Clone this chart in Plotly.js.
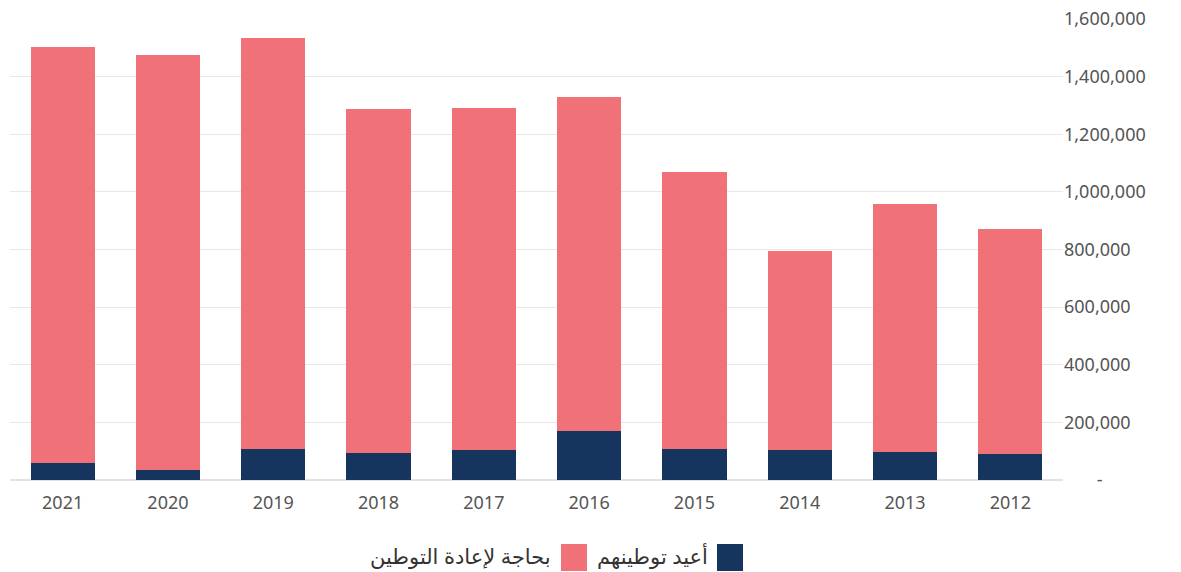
<!DOCTYPE html>
<html><head><meta charset="utf-8">
<script src="https://cdn.plot.ly/plotly-3.0.1.min.js"></script>
<style>html,body{margin:0;padding:0;background:#fff}#chart{width:1181px;height:572px}</style>
</head><body><div id="chart"></div>
<script>
const years = ['2021','2020','2019','2018','2017','2016','2015','2014','2013','2012'];
const resettled = [57500, 34400, 107800, 92400, 102800, 170000, 107100, 105200, 98400, 88600];
const inNeed = [1445000, 1440000, 1428000, 1195000, 1190000, 1160000, 962000, 691000, 859000, 781000];
const nameResettled = 'أعيد توطينهم';
const nameNeed = 'بحاجة لإعادة التوطين';
const tickVals = [0, 200000, 400000, 600000, 800000, 1000000, 1200000, 1400000, 1600000];
const tickText = ['\u00a0\u00a0\u00a0\u00a0\u00a0\u00a0\u00a0-', '200,000', '400,000', '600,000', '800,000', '1,000,000', '1,200,000', '1,400,000', '1,600,000'];

const navy = '#16355e', pink = '#f07178';
const L = 10, R = 1063, T = 19, B = 480;
const px = x => (x - L) / (R - L);
const py = y => (B - y) / (B - T);

const traces = [
  {type:'bar', x: years, y: resettled, name: nameResettled, marker:{color: navy}, hoverinfo:'x+y'},
  {type:'bar', x: years, y: inNeed, name: nameNeed, marker:{color: pink}, hoverinfo:'x+y'}
];
const font = {family:'Noto Sans, DejaVu Sans, sans-serif', color:'#555', size:17};
const layout = {
  width:1181, height:572, barmode:'stack', bargap:0.39, showlegend:false,
  margin:{l:L, r:1181-R, t:T, b:572-B, pad:0},
  paper_bgcolor:'#fff', plot_bgcolor:'#fff', font: font,
  xaxis:{type:'category', tickfont:{size:18, color:'#555'}, showgrid:false, ticks:'', showline:false, zeroline:false, ticklabelstandoff:10},
  yaxis:{side:'right', range:[0,1600000], tickvals: tickVals, ticktext: tickText, tickfont:{size:18, color:'#555'},
    gridcolor:'#e8e8e8', gridwidth:1, zeroline:true, zerolinecolor:'#e3e3e3', zerolinewidth:2, ticks:'', showline:false},
  shapes:[
    {type:'rect', xref:'paper', yref:'paper', x0:px(717), x1:px(743), y0:py(571), y1:py(544), fillcolor:navy, line:{width:0}},
    {type:'rect', xref:'paper', yref:'paper', x0:px(561), x1:px(587), y0:py(571), y1:py(544), fillcolor:pink, line:{width:0}}
  ],
  annotations:[
    {xref:'paper', yref:'paper', x:px(710), y:py(556), xanchor:'right', yanchor:'middle', text:nameResettled, showarrow:false, font:{size:21, color:'#333'}},
    {xref:'paper', yref:'paper', x:px(553), y:py(556), xanchor:'right', yanchor:'middle', text:nameNeed, showarrow:false, font:{size:21, color:'#333'}}
  ]
};
Plotly.newPlot('chart', traces, layout, {displayModeBar:false, staticPlot:true});
</script></body></html>
